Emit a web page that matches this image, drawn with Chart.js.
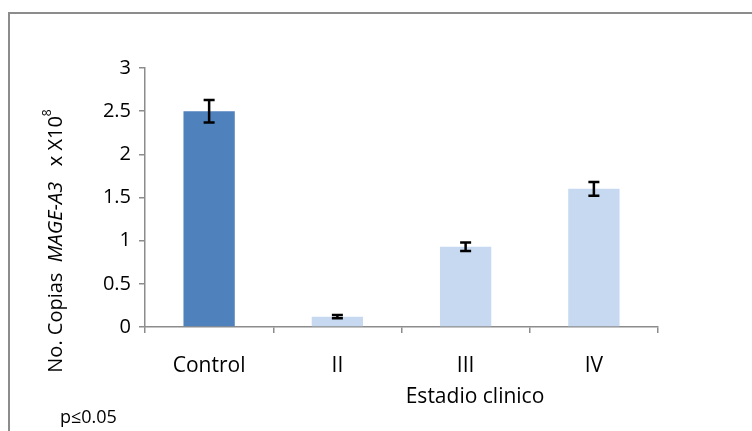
<!DOCTYPE html>
<html>
<head>
<meta charset="utf-8">
<script src="https://cdn.jsdelivr.net/npm/chart.js@4.4.1/dist/chart.umd.min.js"></script>
<style>
  html, body { margin: 0; padding: 0; background: #fff; }
  #wrap { width: 752px; height: 431px; position: relative; }
</style>
</head>
<body>
<div id="wrap"><canvas id="myChart" width="752" height="431"></canvas></div>
<script>
// data
const categories = ['Control', 'II', 'III', 'IV'];
const copies = [2.5, 0.12, 0.93, 1.6];
const copiesError = [0.13, 0.02, 0.05, 0.08];
const barColors = ['#4F81BD', '#C6D9F1', '#C6D9F1', '#C6D9F1'];
const yTicks = [0, 0.5, 1, 1.5, 2, 2.5, 3];

const FONT = '"Open Sans", Lato, sans-serif';
const AXIS_GRAY = '#8C8C8C';

// error bars + titles + frame
const extras = {
  id: 'extras',
  afterDatasetsDraw(chart) {
    const ctx = chart.ctx;
    const x = chart.scales.x;
    const y = chart.scales.y;
    ctx.save();
    ctx.strokeStyle = '#000';
    ctx.lineWidth = 2.5;
    copies.forEach((v, i) => {
      const cx = x.getPixelForValue(i);
      const top = y.getPixelForValue(v + copiesError[i]);
      const bot = y.getPixelForValue(v - copiesError[i]);
      ctx.beginPath();
      ctx.moveTo(cx, top);
      ctx.lineTo(cx, bot);
      ctx.moveTo(cx - 5.5, top);
      ctx.lineTo(cx + 5.5, top);
      ctx.moveTo(cx - 5.5, bot);
      ctx.lineTo(cx + 5.5, bot);
      ctx.stroke();
    });
    ctx.restore();
  },
  afterDraw(chart) {
    const ctx = chart.ctx;
    ctx.save();
    // outer frame
    ctx.strokeStyle = AXIS_GRAY;
    ctx.lineWidth = 2;
    ctx.beginPath();
    ctx.moveTo(9, 440);
    ctx.lineTo(9, 13);
    ctx.lineTo(760, 13);
    ctx.stroke();

    ctx.fillStyle = '#000';
    // x title
    ctx.font = '21px ' + FONT;
    ctx.textAlign = 'center';
    ctx.textBaseline = 'middle';
    ctx.fillText('Estadio clinico', 475, 397);
    // note
    ctx.font = '18px ' + FONT;
    ctx.textAlign = 'left';
    ctx.fillText('p≤0.05', 60, 418);

    // y title, mixed styles
    const parts = [
      { t: 'No. Copias  ', f: '20px ' + FONT, dy: 0 },
      { t: 'MAGE-A3', f: 'italic 20px ' + FONT, dy: 0 },
      { t: '   x X10', f: '20px ' + FONT, dy: 0 },
      { t: '8', f: '12px ' + FONT, dy: -8 }
    ];
    let total = 0;
    parts.forEach(p => { ctx.font = p.f; p.w = ctx.measureText(p.t).width; total += p.w; });
    ctx.translate(56, 241);
    ctx.rotate(-Math.PI / 2);
    let pos = -total / 2;
    ctx.textBaseline = 'middle';
    parts.forEach(p => {
      ctx.font = p.f;
      ctx.fillText(p.t, pos, p.dy);
      pos += p.w;
    });
    ctx.restore();
  }
};

const ctx = document.getElementById('myChart').getContext('2d');
window.myChart = new Chart(ctx, {
  type: 'bar',
  data: {
    labels: categories,
    datasets: [{
      data: copies,
      backgroundColor: barColors,
      borderWidth: 0,
      categoryPercentage: 1,
      barPercentage: 0.4
    }]
  },
  options: {
    responsive: false,
    animation: false,
    layout: { padding: { top: 68, right: 94, left: 0, bottom: 0 } },
    plugins: { legend: { display: false }, tooltip: { enabled: false } },
    scales: {
      x: {
        offset: true,
        grid: {
          offset: true,
          drawOnChartArea: false,
          drawTicks: true,
          tickLength: 6,
          color: AXIS_GRAY,
          lineWidth: 1.5
        },
        border: { color: AXIS_GRAY, width: 1.5 },
        ticks: { color: '#000', font: { family: FONT, size: 21 }, padding: 20 },
        afterFit(scale) { scale.height = 104; }
      },
      y: {
        min: 0,
        max: 3,
        afterBuildTicks(scale) { scale.ticks = yTicks.map(v => ({ value: v })); },
        grid: {
          drawOnChartArea: false,
          drawTicks: true,
          tickLength: 6,
          color: AXIS_GRAY,
          lineWidth: 1.5
        },
        border: { color: AXIS_GRAY, width: 1.5 },
        ticks: {
          color: '#000',
          font: { family: FONT, size: 20 },
          padding: 8,
          callback: (v) => String(v)
        },
        afterFit(scale) { scale.width = 145; }
      }
    }
  },
  plugins: [extras]
});
</script>
</body>
</html>
